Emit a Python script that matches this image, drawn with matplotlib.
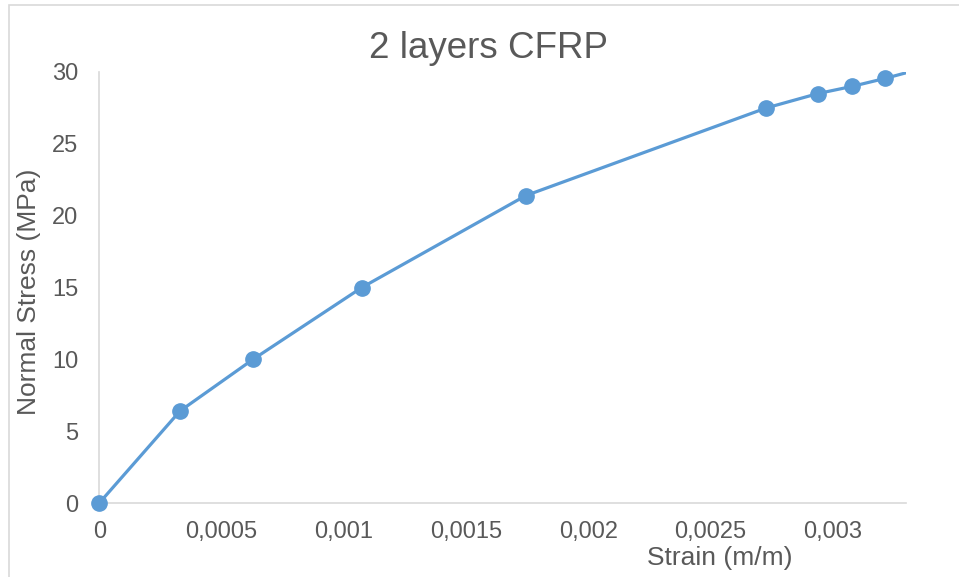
import matplotlib
matplotlib.use("Agg")
import matplotlib.pyplot as plt
from matplotlib.patches import Rectangle
from matplotlib.ticker import FuncFormatter

plt.rcParams['font.family'] = ['Liberation Sans', 'DejaVu Sans']

# Stress-strain readings, 2 layers CFRP
strain = [0.0, 0.00033, 0.000629, 0.001074, 0.001745, 0.002729, 0.00294, 0.00308, 0.003216, 0.0034]
stress = [0.0, 6.4, 10.0, 15.0, 21.4, 27.5, 28.5, 29.0, 29.56, 30.4]

x_ticks = [0, 0.0005, 0.001, 0.0015, 0.002, 0.0025, 0.003]
y_ticks = [0, 5, 10, 15, 20, 25, 30]

BLUE = "#5B9BD5"
TEXT = "#595959"
AXIS = "#D9D9D9"

W, H = 959, 577
fig = plt.figure(figsize=(W / 100, H / 100), dpi=100)
x0, x1, y0, y1 = 99.3, 906, 72, 503
ax = fig.add_axes([x0 / W, 1 - y1 / H, (x1 - x0) / W, (y1 - y0) / H])

xmax, ymax = 0.0033, 30
ax.set_xlim(0, xmax)
ax.set_ylim(0, ymax)

# connecting line (clipped at the plot edges)
ax.plot(strain, stress, color=BLUE, lw=2.3, solid_capstyle="round", zorder=3)
# markers for the points inside the plotted range
mx = [s for s in strain if s <= xmax]
my = [t for s, t in zip(strain, stress) if s <= xmax]
ax.plot(mx, my, ls="none", marker="o", ms=11, color=BLUE, clip_on=False, zorder=4)

for side in ("top", "right"):
    ax.spines[side].set_visible(False)
for side in ("left", "bottom"):
    ax.spines[side].set_color(AXIS)
    ax.spines[side].set_linewidth(1.2)

ax.set_xticks(x_ticks)
ax.set_yticks(y_ticks)
ax.xaxis.set_major_formatter(FuncFormatter(lambda v, p: ("%g" % v).replace(".", ",")))
ax.tick_params(axis="both", length=0, labelsize=17, colors=TEXT)
ax.tick_params(axis="x", pad=13)
ax.tick_params(axis="y", pad=15)

ax.set_ylabel("Normal Stress (MPa)", fontsize=19, color=TEXT, va="center")
ax.yaxis.set_label_coords((29 - x0) / (x1 - x0), 0.49)
fig.text(720 / W, 1 - 558 / H, "Strain (m/m)", fontsize=19, color=TEXT,
         ha="center", va="center")
fig.text(488 / W, 1 - 48 / H, "2 layers CFRP", fontsize=26.5, color=TEXT,
         ha="center", va="center")

# chart area frame
fig.patches.append(Rectangle((9 / W, -0.1), 1.2, 1 - 5 / H + 0.1, transform=fig.transFigure,
                             fill=False, edgecolor=AXIS, lw=1.2))

fig.savefig("out.png", dpi=100)
